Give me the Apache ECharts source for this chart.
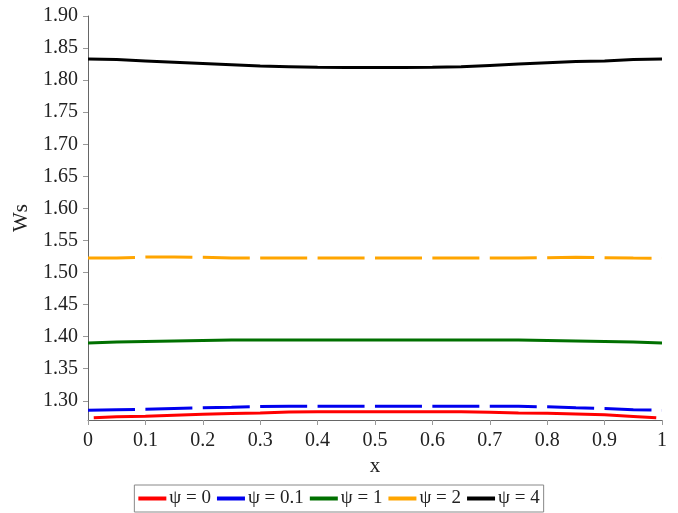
<!DOCTYPE html>
<html>
<head>
<meta charset="utf-8">
<script src="https://cdn.jsdelivr.net/npm/echarts@6/dist/echarts.min.js"></script>
<style>html,body{margin:0;padding:0;background:#fff}#c{width:678px;height:513px}</style>
</head>
<body>
<div id="c"></div>
<script>
const xs = [0,0.05,0.1,0.15,0.2,0.25,0.3,0.35,0.4,0.45,0.5,0.55,0.6,0.65,0.7,0.75,0.8,0.85,0.9,0.95,1];
const xsRed = [0.01,0.05,0.1,0.15,0.2,0.25,0.3,0.35,0.4,0.45,0.5,0.55,0.6,0.65,0.7,0.75,0.8,0.85,0.9,0.95,0.99];
const psi0   = [1.2734,1.2749,1.2757,1.2775,1.2790,1.2800,1.2810,1.2825,1.2827,1.2827,1.2827,1.2827,1.2827,1.2827,1.2820,1.2810,1.2805,1.2795,1.2780,1.2755,1.2734];
const psi01  = [1.2852,1.2860,1.2868,1.2880,1.2892,1.2899,1.2910,1.2914,1.2914,1.2914,1.2914,1.2914,1.2914,1.2914,1.2914,1.2914,1.2905,1.2890,1.2878,1.2860,1.2852];
const psi1   = [1.3902,1.3917,1.3925,1.3933,1.3941,1.3949,1.3949,1.3949,1.3949,1.3949,1.3949,1.3949,1.3949,1.3949,1.3949,1.3949,1.3941,1.3933,1.3925,1.3917,1.3902];
const psi2   = [1.5226,1.5226,1.5240,1.5242,1.5236,1.5226,1.5226,1.5226,1.5226,1.5226,1.5226,1.5226,1.5226,1.5226,1.5226,1.5226,1.5232,1.5238,1.5232,1.5226,1.5222];
const psi4   = [1.8330,1.8320,1.8300,1.8280,1.8260,1.8240,1.8220,1.8210,1.8200,1.8195,1.8195,1.8195,1.8200,1.8210,1.8230,1.8250,1.8270,1.8290,1.8300,1.8320,1.8330];
const names  = ['ψ = 0','ψ = 0.1','ψ = 1','ψ = 2','ψ = 4'];
const colors = ['#ff0000','#0000ee','#007000','#ffa500','#000000'];
const yTicks = [1.30,1.35,1.40,1.45,1.50,1.55,1.60,1.65,1.70,1.75,1.80,1.85,1.90];
const xTicks = [0,0.1,0.2,0.3,0.4,0.5,0.6,0.7,0.8,0.9,1];

const pair = (xv, yv) => xv.map((x, i) => [x, yv[i]]);
const font = 'Liberation Serif';
const dash = [47, 10.4];
const seriesData = [
  {d: pair(xsRed, psi0), dash: null},
  {d: pair(xs, psi01), dash: dash},
  {d: pair(xs, psi1), dash: null},
  {d: pair(xs, psi2), dash: dash},
  {d: pair(xs, psi4), dash: null}
];

const chart = echarts.init(document.getElementById('c'), null, {renderer: 'canvas'});
chart.setOption({
  animation: false,
  backgroundColor: '#fff',
  grid: {left: 88, right: 16, top: 16, bottom: 93, containLabel: false},
  xAxis: {
    type: 'value', min: 0, max: 1, interval: 0.1,
    name: 'x', nameLocation: 'middle', nameGap: 36,
    nameTextStyle: {fontFamily: font, fontSize: 21, color: '#222'},
    axisLine: {lineStyle: {color: '#666', width: 1}},
    axisTick: {show: true, length: 5, lineStyle: {color: '#999'}, customValues: xTicks},
    axisLabel: {fontFamily: font, fontSize: 20, color: '#222', margin: 11, customValues: xTicks,
      formatter: v => String(+v.toFixed(2))},
    splitLine: {show: false}
  },
  yAxis: {
    type: 'value', min: 1.27, max: 1.90,
    name: 'Ws', nameLocation: 'middle', nameGap: 56,
    nameTextStyle: {fontFamily: font, fontSize: 21, color: '#222'},
    axisLine: {show: true, lineStyle: {color: '#666', width: 1}},
    axisTick: {show: true, length: 5, lineStyle: {color: '#999'}, customValues: yTicks},
    axisLabel: {fontFamily: font, fontSize: 20, color: '#222', margin: 10, customValues: yTicks,
      formatter: v => v.toFixed(2)},
    splitLine: {show: false}
  },
  legend: {
    bottom: 1, left: 'center',
    data: names,
    icon: 'rect', itemWidth: 28, itemHeight: 4, itemGap: 6,
    borderColor: '#888', borderWidth: 1, padding: [4, 4, 4, 4],
    textStyle: {fontFamily: font, fontSize: 19, color: '#222', padding: [0, 0, 0, -2]}
  },
  series: seriesData.map((s, i) => ({
    name: names[i], type: 'line', data: s.d,
    showSymbol: false, symbol: 'none',
    color: colors[i],
    lineStyle: {width: 3, color: colors[i], type: s.dash || 'solid', cap: 'butt'}
  }))
});
</script>
</body>
</html>
